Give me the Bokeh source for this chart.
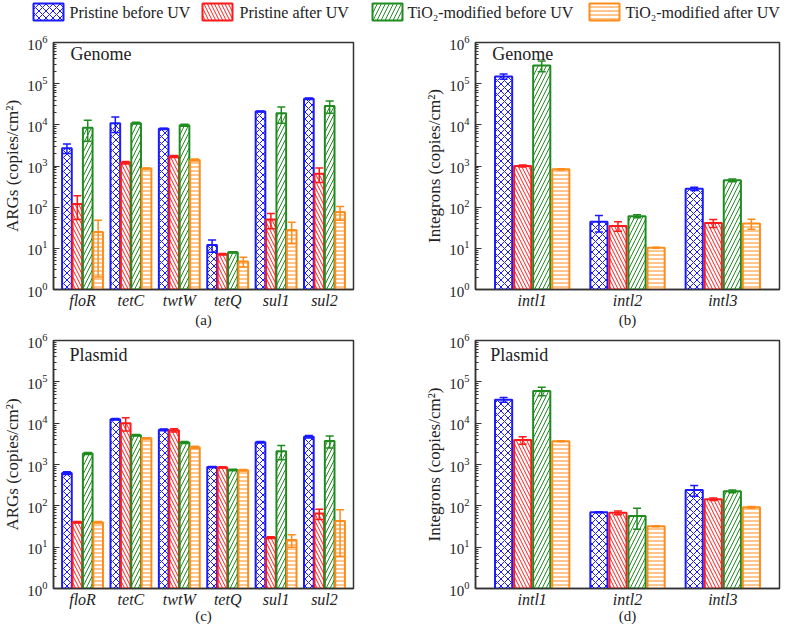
from bokeh.plotting import figure
from bokeh.models import (ColumnDataSource, FactorRange, Range1d, FixedTicker,
                          Whisker, TeeHead, Label)
from bokeh.transform import dodge
from bokeh.layouts import column, row
from bokeh.embed import file_html
from bokeh.resources import INLINE
from bokeh.core.properties import value

FONT = "Liberation Serif"

# ---------------- data ----------------
series = ["Pristine before UV", "Pristine after UV",
          "TiO\u2082-modified before UV", "TiO\u2082-modified after UV"]
genes = ["floR", "tetC", "twtW", "tetQ", "sul1", "sul2"]
intls = ["intl1", "intl2", "intl3"]
yticks = [1e0, 1e1, 1e2, 1e3, 1e4, 1e5, 1e6]

# (a) Genome ARGs
a_pb = [2700, 11000, 8000, 12, 21000, 43000]
a_pb_err = [700, 4500, 300, 4, 600, 2000]
a_pa = [120, 1200, 1700, 7.2, 50, 650]
a_pa_err = [70, 80, 100, 0.3, 20, 250]
a_tb = [8500, 11000, 9800, 8.0, 19000, 28500]
a_tb_err = [4500, 500, 600, 0.3, 8000, 9500]
a_ta = [25, 870, 1400, 4.8, 28, 76]
a_ta_err = [23, 30, 80, 1.3, 15, 28]

# (b) Genome integrons
b_pb = [150000, 44, 280]
b_pb_err = [22000, 19, 25]
b_pa = [1000, 35, 41]
b_pa_err = [60, 9, 9]
b_tb = [275000, 60, 450]
b_tb_err = [80000, 5, 35]
b_ta = [830, 10.3, 40]
b_ta_err = [30, 0.3, 11]

# (c) Plasmid ARGs
c_pb = [620, 12500, 6900, 870, 3450, 4700]
c_pb_err = [50, 500, 300, 30, 150, 300]
c_pa = [40, 10000, 6700, 850, 17, 65]
c_pa_err = [1.5, 3500, 600, 30, 0.8, 18]
c_tb = [1850, 5100, 3400, 740, 2100, 3700]
c_tb_err = [100, 200, 200, 30, 800, 1200]
c_ta = [40, 4300, 2600, 730, 15, 43]
c_ta_err = [1.5, 150, 150, 30, 5, 37]

# (d) Plasmid integrons
d_pb = [37000, 70, 240]
d_pb_err = [5000, 2, 70]
d_pa = [3900, 68, 145]
d_pa_err = [800, 7, 10]
d_tb = [60000, 57, 225]
d_tb_err = [14000, 30, 18]
d_ta = [3650, 32, 92]
d_ta_err = [100, 0.8, 5]

# ---------------- style ----------------
COLORS = ["#1a1aff", "#ff1a1a", "#1f8c1f", "#ff8c1a"]
HATCH = ["diagonal_cross", "left_diagonal_line", "right_diagonal_line", "horizontal_line"]
HSCALE = [7, 7, 8, 4]
AX = "#333333"
TXT = "#222222"


def panel(cats, vals, errs, ylabel, sub, tag, tag_x, tag_y, width, height,
          bl, br, bt, bb, slot, bw, pad, sub_standoff):
    p = figure(x_range=FactorRange(*cats, range_padding=pad,
                                   range_padding_units="percent"),
               y_range=Range1d(1, 1e6),
               y_axis_type="log", width=width, height=height,
               output_backend="svg", toolbar_location=None, title=None,
               min_border_left=bl, min_border_right=br,
               min_border_top=bt, min_border_bottom=bb)
    p.xgrid.visible = False
    p.ygrid.visible = False
    p.outline_line_color = AX
    p.outline_line_width = 1.5
    p.background_fill_color = "white"
    p.border_fill_color = "white"

    minors = [m * 10 ** k for k in range(6) for m in range(2, 10)]
    p.yaxis.ticker = FixedTicker(ticks=yticks, minor_ticks=minors)
    p.yaxis.major_tick_in = 6
    p.yaxis.major_tick_out = 0
    p.yaxis.minor_tick_in = 3
    p.yaxis.minor_tick_out = 0
    p.yaxis.major_tick_line_color = AX
    p.yaxis.minor_tick_line_color = AX
    p.yaxis.axis_line_color = AX
    p.yaxis.axis_line_width = 1.5
    p.yaxis.major_label_text_font = FONT
    p.yaxis.major_label_text_font_size = "15px"
    p.yaxis.major_label_text_color = TXT
    p.yaxis.major_label_standoff = 6
    p.yaxis.axis_label = ylabel
    p.yaxis.axis_label_text_font = FONT
    p.yaxis.axis_label_text_font_size = "17px"
    p.yaxis.axis_label_text_font_style = "normal"
    p.yaxis.axis_label_text_color = TXT
    p.yaxis.axis_label_standoff = 2

    p.xaxis.major_tick_line_color = None
    p.xaxis.minor_tick_line_color = None
    p.xaxis.major_tick_in = 0
    p.xaxis.major_tick_out = 0
    p.xaxis.minor_tick_in = 0
    p.xaxis.minor_tick_out = 0
    p.xaxis.axis_line_color = AX
    p.xaxis.axis_line_width = 1.5
    p.xaxis.major_label_text_font = FONT
    p.xaxis.major_label_text_font_style = "italic"
    p.xaxis.major_label_text_font_size = "16px"
    p.xaxis.major_label_text_color = TXT
    p.xaxis.major_label_standoff = 2
    p.xaxis.axis_label = sub
    p.xaxis.axis_label_text_font = FONT
    p.xaxis.axis_label_text_font_style = "normal"
    p.xaxis.axis_label_text_font_size = "15px"
    p.xaxis.axis_label_text_color = TXT
    p.xaxis.axis_label_standoff = sub_standoff

    for i in range(4):
        v = vals[i]
        e = errs[i]
        src = ColumnDataSource(dict(cat=cats, val=v,
                                    upper=[a + b for a, b in zip(v, e)],
                                    lower=[max(a - b, 1.02) for a, b in zip(v, e)]))
        off = (i - 1.5) * slot
        c = COLORS[i]
        p.vbar(x=dodge("cat", off, range=p.x_range), top="val", bottom=1,
               width=bw, source=src, fill_color="white", line_color=c,
               line_width=2, hatch_pattern=HATCH[i], hatch_color=c,
               hatch_scale=HSCALE[i], hatch_weight=1)
        w = Whisker(base=dodge("cat", off, range=p.x_range), upper="upper",
                    lower="lower", source=src, line_color=c, line_width=1.5,
                    upper_head=TeeHead(size=8, line_color=c, line_width=1.5),
                    lower_head=TeeHead(size=8, line_color=c, line_width=1.5),
                    level="overlay")
        p.add_layout(w)

    p.add_layout(Label(x=tag_x, y=tag_y, text=tag, text_font=FONT,
                       text_font_size="18px", text_baseline="middle",
                       text_color=TXT))
    return p


fa = panel(genes, [a_pb, a_pa, a_tb, a_ta], [a_pb_err, a_pa_err, a_tb_err, a_ta_err],
           "ARGs (copies/cm\u00b2)", "(a)", "Genome", 0.25, 10 ** 5.71,
           392, 306, 50, 39, 18, 41, 0.215, 0.2, 0.0333, 0)
fb = panel(intls, [b_pb, b_pa, b_tb, b_ta], [b_pb_err, b_pa_err, b_tb_err, b_ta_err],
           "Integrons (copies/cm\u00b2)", "(b)", "Genome", 0.08, 10 ** 5.71,
           392, 306, 83, 5, 18, 41, 0.2, 0.18, 0.0633, 0)
fc = panel(genes, [c_pb, c_pa, c_tb, c_ta], [c_pb_err, c_pa_err, c_tb_err, c_ta_err],
           "ARGs (copies/cm\u00b2)", "(c)", "Plasmid", 0.23, 10 ** 5.66,
           392, 299, 50, 39, 10, 41, 0.215, 0.2, 0.0333, -3)
fd = panel(intls, [d_pb, d_pa, d_tb, d_ta], [d_pb_err, d_pa_err, d_tb_err, d_ta_err],
           "Integrons (copies/cm\u00b2)", "(d)", "Plasmid", 0.06, 10 ** 5.66,
           392, 299, 83, 5, 10, 41, 0.2, 0.18, 0.0633, -3)

# ---------------- legend strip ----------------
LW, LH = 784, 24
lf = figure(width=LW, height=LH, x_range=Range1d(0, LW), y_range=Range1d(LH, 0),
            output_backend="svg", toolbar_location=None, title=None,
            x_axis_location=None, y_axis_location=None, min_border=0)
lf.xgrid.visible = False
lf.ygrid.visible = False
lf.outline_line_color = None
box_x = [48, 217, 387, 604]
text_x = [69, 239, 407, 625]
for i in range(4):
    lf.rect(x=[box_x[i]], y=[11.5], width=30, height=17, fill_color="white",
            line_color=COLORS[i], line_width=2, hatch_pattern=HATCH[i],
            hatch_color=COLORS[i], hatch_scale=HSCALE[i], hatch_weight=1)
lf.text(x=text_x, y=[11.5] * 4, text=series, text_font=value(FONT),
        text_font_size="16px", text_baseline="middle", text_color=TXT)

layout = column(lf, row(fa, fb), row(fc, fd))
open("out.html", "w").write(file_html(layout, INLINE))
